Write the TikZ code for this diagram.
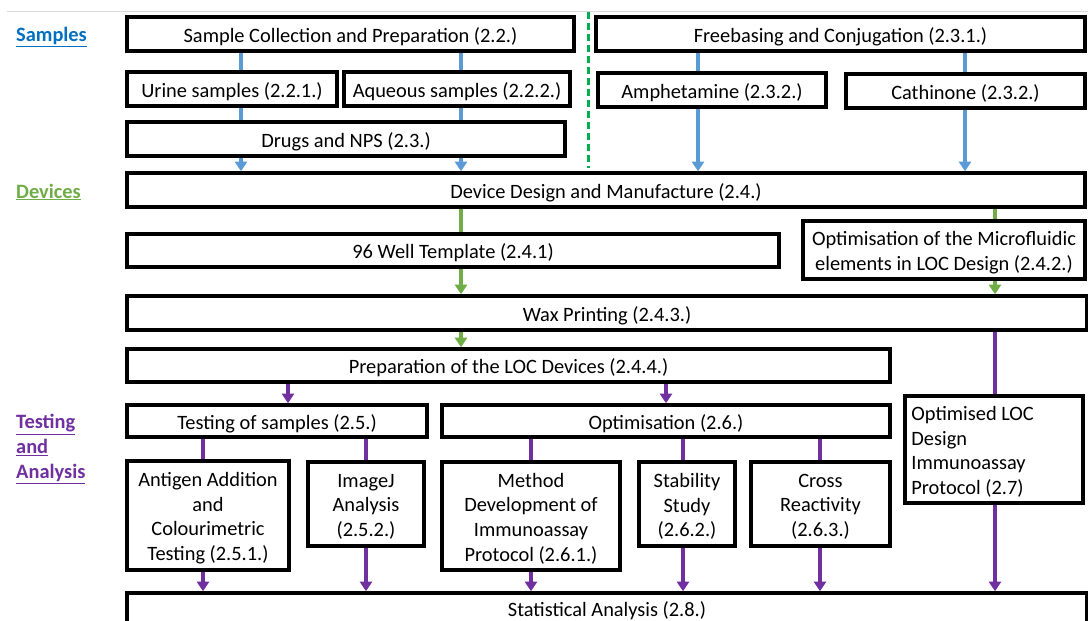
\documentclass[tikz,border=0pt]{standalone}
\usepackage{fontspec}
\setmainfont{Carlito}
\usetikzlibrary{arrows.meta}

\definecolor{sampblue}{HTML}{5B9BD5}
\definecolor{headblue}{HTML}{0070C0}
\definecolor{devgreen}{HTML}{70AD47}
\definecolor{splitgreen}{HTML}{00B050}
\definecolor{testpurple}{HTML}{7030A0}

\begin{document}
\begin{tikzpicture}[x=1pt, y=-1pt,
  stage/.style={draw=black, line width=3.6pt, inner sep=0pt},
  caption/.style={align=center, inner sep=0pt, yshift=-2.5pt,
    font=\fontsize{20.4}{24.6}\selectfont},
  flow/.style={line width=3.3pt, -{Triangle[width=12pt,length=9.5pt]}},
  link/.style={line width=3.3pt},
  heading/.style={anchor=west, align=left, inner sep=0pt,
    font=\fontsize{20.4}{24.6}\selectfont\bfseries},
]
\clip (0,0) rectangle (1088,621);
\fill[white] (0,0) rectangle (1088,621);
\draw[black!15, line width=1pt] (7,11) -- (1088,11);

% section headings
\node[heading, text=headblue] (hs) at (16,37) {\underline{Samples}};
\node[heading, text=devgreen] (hd) at (16,192) {\underline{Devices}};
\node[heading, text=testpurple] (ht) at (16,449) {\underline{Testing}\\\underline{and}\\\underline{Analysis}};

% column positions of the connectors
\foreach \n/\x in {ca/241, cb/461, cc/698, cd/965, ce/995, cf/288, cg/666,
                   ch/203, ci/366, cj/531, ck/683, cl/820}
  \coordinate (\n) at (\x,0);

% a framed stage given by its corners: [label position] name, x1, y1, x2, y2, text
\newcommand\boxat[7][center]{\node[stage, minimum width={#5-#3}, minimum height={#6-#4},
    label={[caption]#1:#7}]
    (#2) at ({(#3+#5)/2},{(#4+#6)/2}) {};}

% samples
\boxat{coll}{127}{17}{574}{51}{Sample Collection and Preparation (2.2.)}
\boxat{free}{596}{17}{1085}{51}{Freebasing and Conjugation (2.3.1.)}
\boxat{urine}{127}{72}{337}{106}{Urine samples (2.2.1.)}
\boxat{aque}{344}{72}{570}{106}{Aqueous samples (2.2.2.)}
\boxat{amph}{598}{73}{826}{107}{Amphetamine (2.3.2.)}
\boxat{cath}{846}{74}{1085}{108}{Cathinone (2.3.2.)}
\boxat{drugs}{127}{122}{565}{156}{Drugs and NPS (2.3.)}

\coordinate (splittop) at (588,12);
\coordinate (splitbot) at (588,168);
\draw[splitgreen, line width=3pt, dash pattern=on 7pt off 4pt] (splittop) -- (splitbot);

% devices
\boxat{design}{127}{173}{1085}{207}{Device Design and Manufacture (2.4.)}
\boxat{well}{127}{234}{779}{267}{96 Well Template (2.4.1)}
\boxat{micro}{803}{221}{1085}{279}{Optimisation of the Microfluidic\\elements in LOC Design (2.4.2.)}
\boxat{wax}{127}{296}{1087}{330}{Wax Printing (2.4.3.)}
\boxat{prep}{127}{349}{890}{382}{Preparation of the LOC Devices (2.4.4.)}

% testing and analysis
\boxat{test}{127}{405}{427}{437}{Testing of samples (2.5.)}
\boxat{optim}{442}{405}{890}{437}{Optimisation (2.6.)}
\node[stage, minimum width=178, minimum height=107,
  label={[caption, align=left, anchor=west, xshift=8pt]west:Optimised LOC\\Design\\Immunoassay\\Protocol (2.7)}]
  (final) at (994,449.5) {};
\boxat{antigen}{127}{461}{289}{570}{Antigen Addition\\and\\Colourimetric\\Testing (2.5.1.)}
\boxat{imagej}{308}{462}{424}{546}{ImageJ\\Analysis\\(2.5.2.)}
\boxat{method}{442}{462}{620}{570}{Method\\Development of\\Immunoassay\\Protocol (2.6.1.)}
\boxat{stab}{639}{462}{735}{546}{Stability\\Study\\(2.6.2.)}
\boxat{cross}{751}{462}{890}{546}{Cross\\Reactivity\\(2.6.3.)}
\boxat{stats}{127}{593}{1087}{640}{}
\node[caption] (statslabel) at (607,608) {Statistical Analysis (2.8.)};

% sample connectors
\begin{scope}[sampblue]
\draw[link] (coll.south -| ca) -- (urine.north -| ca);
\draw[link] (coll.south -| cb) -- (aque.north -| cb);
\draw[link] (urine.south -| ca) -- (drugs.north -| ca);
\draw[link] (aque.south -| cb) -- (drugs.north -| cb);
\draw[flow] (drugs.south -| ca) -- (design.north -| ca);
\draw[flow] (drugs.south -| cb) -- (design.north -| cb);
\draw[link] (free.south -| cc) -- (amph.north -| cc);
\draw[link] (free.south -| cd) -- (cath.north -| cd);
\draw[flow] (amph.south -| cc) -- (design.north -| cc);
\draw[flow] (cath.south -| cd) -- (design.north -| cd);
\end{scope}

% device connectors
\begin{scope}[devgreen]
\draw[link] (design.south -| cb) -- (well.north -| cb);
\draw[link] (design.south -| ce) -- (micro.north -| ce);
\draw[flow] (well.south -| cb) -- (wax.north -| cb);
\draw[flow] (micro.south -| ce) -- (wax.north -| ce);
\draw[flow] (wax.south -| cb) -- (prep.north -| cb);
\end{scope}

% testing connectors
\begin{scope}[testpurple]
\draw[link] (wax.south -| ce) -- (final.north -| ce);
\draw[flow] (prep.south -| cf) -- (test.north -| cf);
\draw[flow] (prep.south -| cg) -- (optim.north -| cg);
\draw[link] (test.south -| ch) -- (antigen.north -| ch);
\draw[link] (test.south -| ci) -- (imagej.north -| ci);
\draw[link] (optim.south -| cj) -- (method.north -| cj);
\draw[link] (optim.south -| ck) -- (stab.north -| ck);
\draw[link] (optim.south -| cl) -- (cross.north -| cl);
\draw[flow] (antigen.south -| ch) -- (stats.north -| ch);
\draw[flow] (imagej.south -| ci) -- (stats.north -| ci);
\draw[flow] (method.south -| cj) -- (stats.north -| cj);
\draw[flow] (stab.south -| ck) -- (stats.north -| ck);
\draw[flow] (cross.south -| cl) -- (stats.north -| cl);
\draw[flow] (final.south -| ce) -- (stats.north -| ce);
\end{scope}
\end{tikzpicture}
\end{document}
